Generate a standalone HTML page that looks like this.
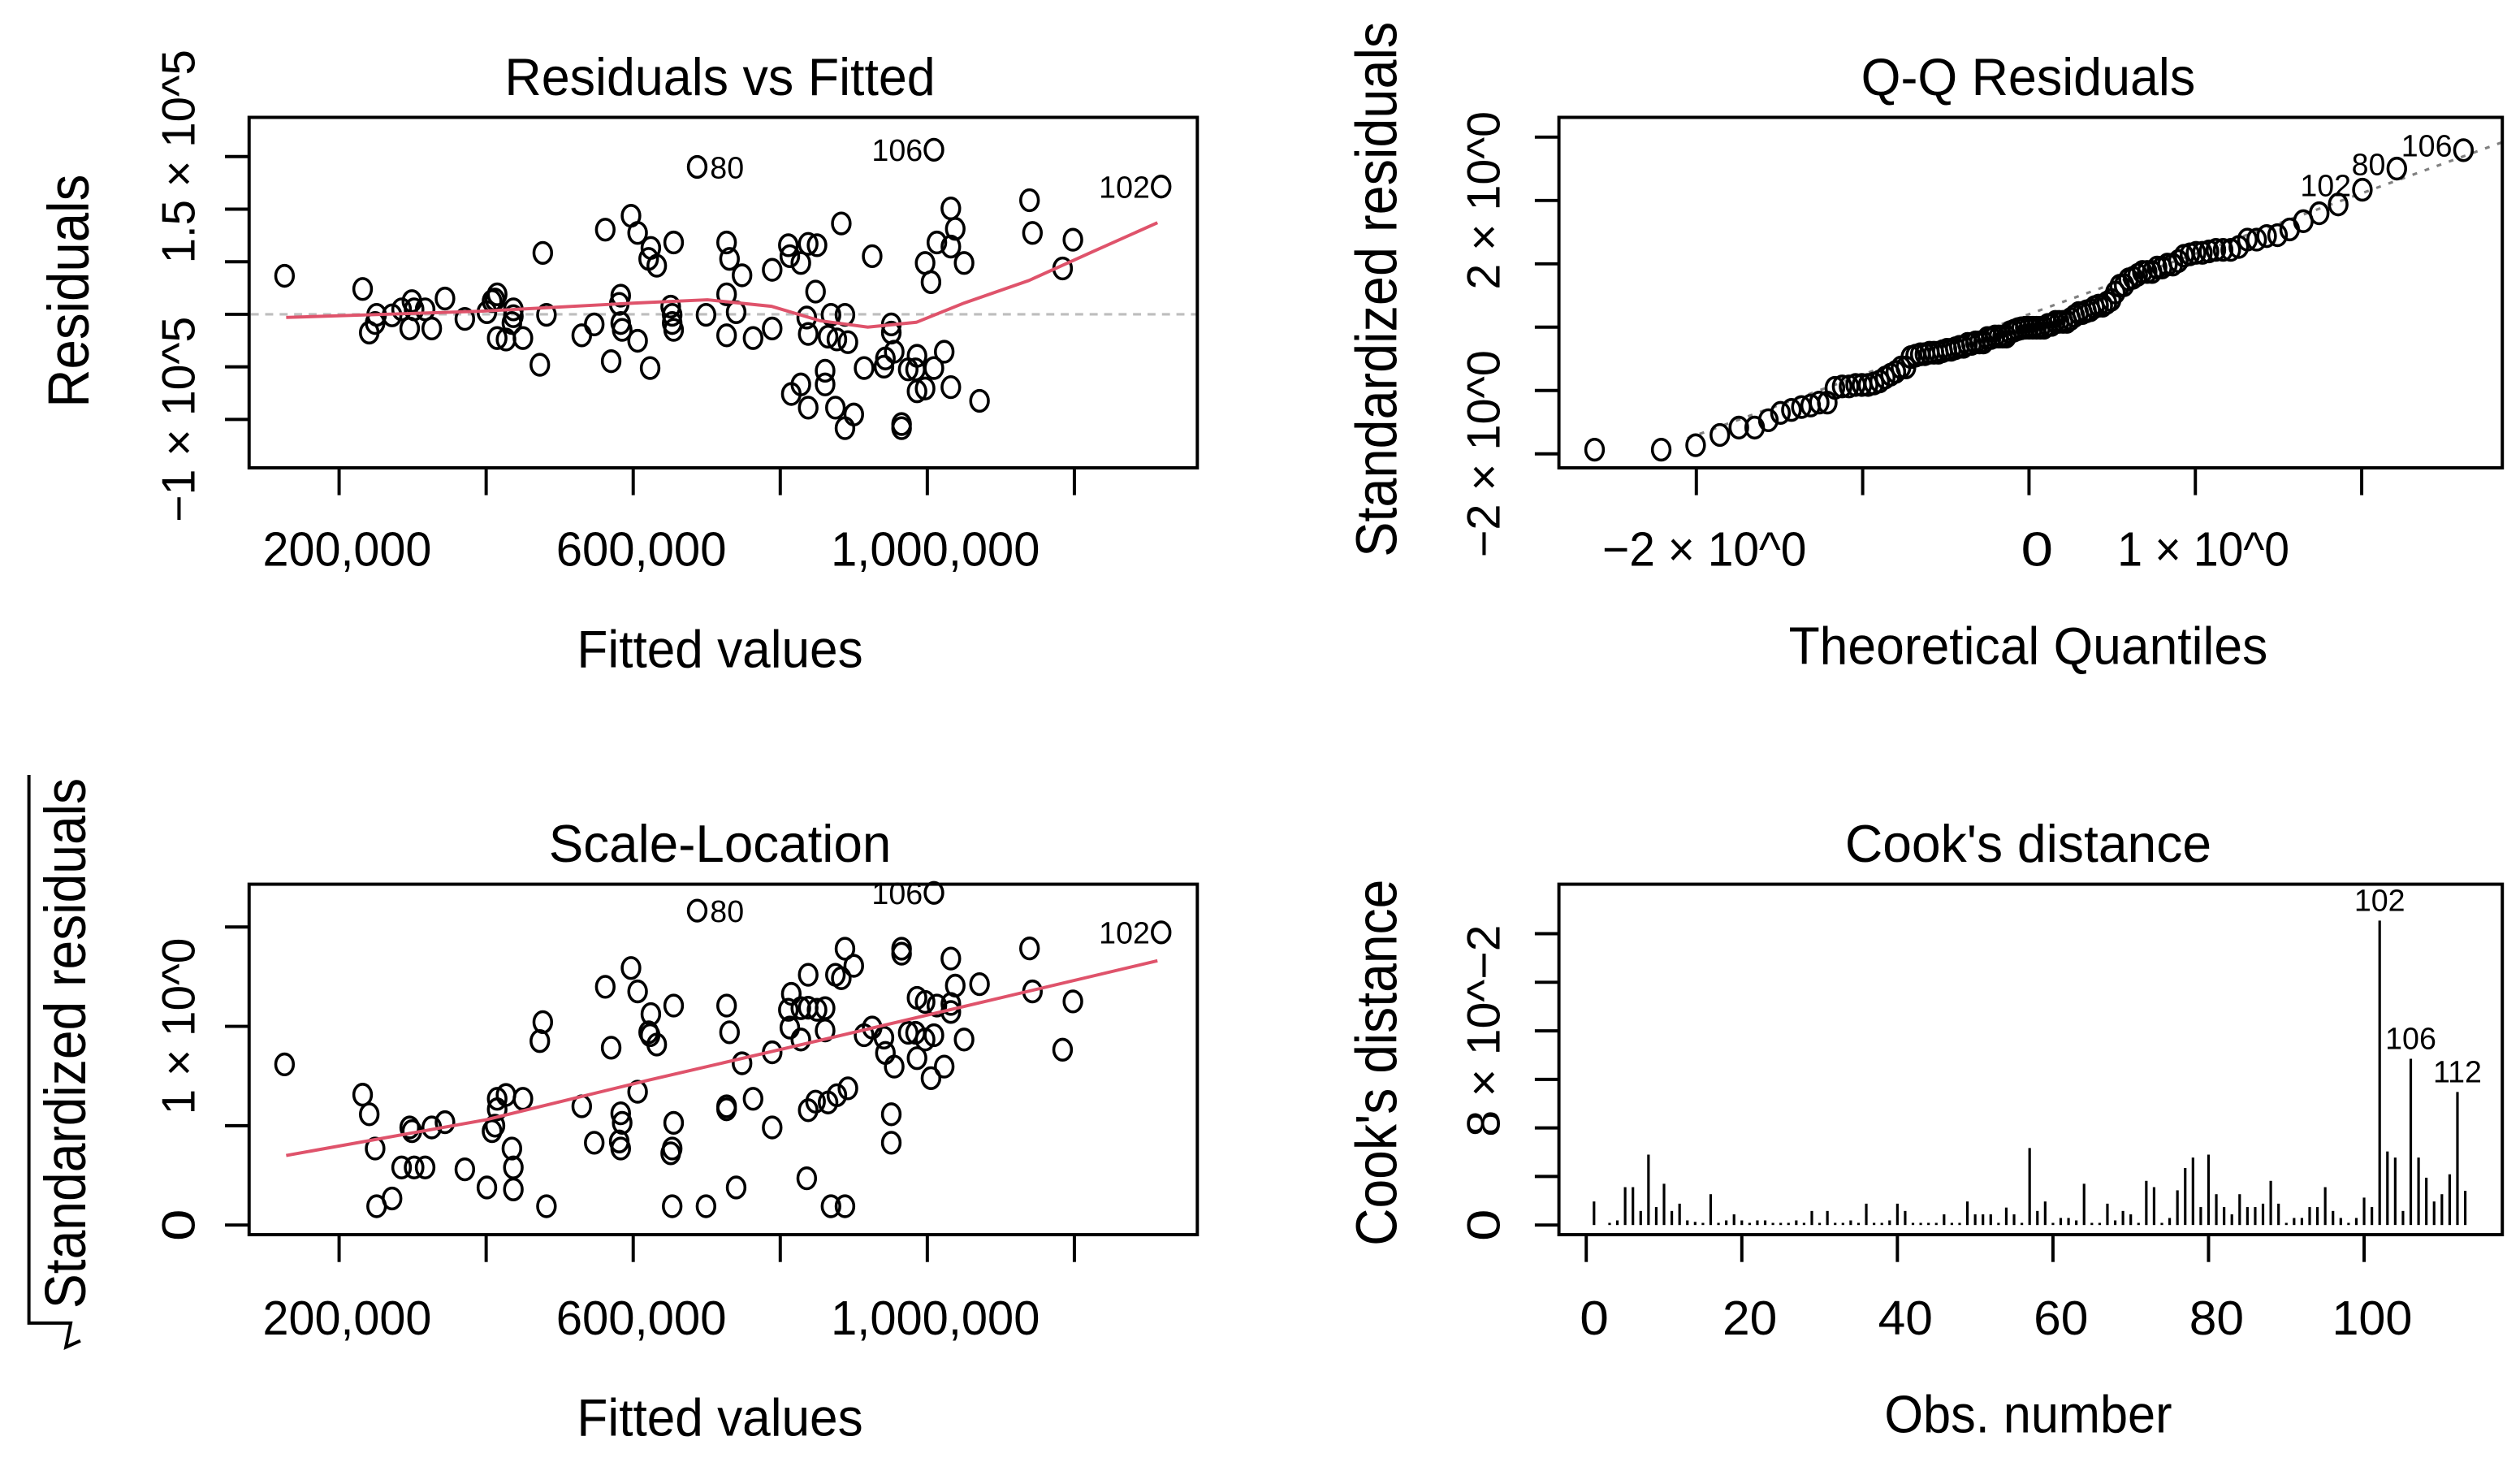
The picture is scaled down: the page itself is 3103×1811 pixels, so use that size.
<!DOCTYPE html>
<html><head><meta charset="utf-8"><title>Regression diagnostics</title>
<style>
html,body{margin:0;padding:0;background:#fff;}
svg{display:block;}
text{font-family:"Liberation Sans",Arial,sans-serif;fill:#000;}
</style></head>
<body>
<svg id="chart" xmlns="http://www.w3.org/2000/svg" width="3103" height="1811" viewBox="0 0 1568 915" preserveAspectRatio="none">
<rect x="0" y="0" width="1568" height="915" fill="#fff"/>
<!-- Panel 1 -->
<g>
<text x="448" y="59" font-size="33" text-anchor="middle" textLength="268" lengthAdjust="spacingAndGlyphs">Residuals vs Fitted</text>
<text x="448" y="415" font-size="33" text-anchor="middle" textLength="178" lengthAdjust="spacingAndGlyphs">Fitted values</text>
<text transform="translate(55,181) rotate(-90)" font-size="36" text-anchor="middle" textLength="145" lengthAdjust="spacingAndGlyphs">Residuals</text>
<g id="p1"></g>
<rect x="155" y="73" width="590" height="218" fill="none" stroke="#000" stroke-width="2"/>
</g>
<!-- Panel 2 -->
<g>
<text x="1262" y="59" font-size="33" text-anchor="middle" textLength="208" lengthAdjust="spacingAndGlyphs">Q-Q Residuals</text>
<text x="1262" y="413" font-size="33" text-anchor="middle" textLength="298" lengthAdjust="spacingAndGlyphs">Theoretical Quantiles</text>
<text transform="translate(869,180) rotate(-90)" font-size="36" text-anchor="middle" textLength="333" lengthAdjust="spacingAndGlyphs">Standardized residuals</text>
<g id="p2"></g>
<rect x="970" y="73" width="587" height="218" fill="none" stroke="#000" stroke-width="2"/>
</g>
<!-- Panel 3 -->
<g>
<text x="448" y="536" font-size="33" text-anchor="middle" textLength="213" lengthAdjust="spacingAndGlyphs">Scale-Location</text>
<text x="448" y="893" font-size="33" text-anchor="middle" textLength="178" lengthAdjust="spacingAndGlyphs">Fitted values</text>
<text transform="translate(53,649) rotate(-90)" font-size="36" text-anchor="middle" textLength="330" lengthAdjust="spacingAndGlyphs">Standardized residuals</text>
<path d="M18,482 L18,823 L44,823 L41,838 L50,834" fill="none" stroke="#000" stroke-width="2"/>
<g id="p3"></g>
<rect x="155" y="550" width="590" height="218" fill="none" stroke="#000" stroke-width="2"/>
</g>
<!-- Panel 4 -->
<g>
<text x="1262" y="536" font-size="33" text-anchor="middle" textLength="228" lengthAdjust="spacingAndGlyphs">Cook's distance</text>
<text x="1262" y="891" font-size="33" text-anchor="middle" textLength="179" lengthAdjust="spacingAndGlyphs">Obs. number</text>
<text transform="translate(869,661) rotate(-90)" font-size="36" text-anchor="middle" textLength="228" lengthAdjust="spacingAndGlyphs">Cook's distance</text>
<g id="p4"></g>
<rect x="970" y="550" width="587" height="218" fill="none" stroke="#000" stroke-width="2"/>
</g>
</svg>
<script>
// ---- data (thousands for fitted / residuals) ----
const fittedK = [125.8,232,241,249,251,272,285,296,299,302,317,326,344,371,401,408,415,412,415,427,437,437,435,450,477,473,482,530,547,562,570,583,581,583,585,597,606,606,623,624,621,632,655,651,653,653,655,687,699,727,731,748,727,740,727,763,789,789,811,813,828,838,850,848,836,838,828,815,838,861,861,869,888,865,877,892,875,900,888,883,925,914,941,943,955,951,951,965,965,974,986,984,986,997,1009,1023,1032,997,1005,1013,1032,1038,1032,1050,1009,1071,1139,1143,1184,1198,1318];
const residK = [36.6,24.1,-17.4,-8.3,-0.5,-1,4.7,-13.5,12.5,4.7,4.7,-13.5,15,-4.4,2,12.5,19,14,-22.6,-24,-1.8,4.7,-8.3,-22.6,58.4,-48,-0.5,-20,-9.6,80.5,-44.6,17.7,9.9,-8.3,-14.8,93.7,77.4,-25.2,-51.1,63.1,52.7,46.2,68.3,7.3,-0.5,-8.3,-14.8,140.2,-0.5,68.3,52.7,37.1,19,2,-20,-22.6,42.3,-13.5,65.7,55.3,48.8,67,65.7,21.6,-3.1,-18.7,-66.7,-75.8,-88.8,-53.7,-66.7,-0.5,-0.5,-21.3,-23.9,-26.5,-88.8,-95.3,-108.3,86.4,55.3,-51.1,-49.8,-42,-35.6,-17.4,-9.6,-108.3,-104.4,-52.4,-39.5,-52.4,-73.2,-70.6,-51.1,-35.6,-69.3,48.8,30.6,68.3,64.4,81.3,100.7,48.8,156.5,-82.3,108.5,77.4,43.6,70.9,121.5];
const sigmaK = 56;
const pointLabels = ["106","80","102"];
const loessFitK = [128,263,395,602,701,788,854,919,985,1050,1138,1225,1313];
const loessResK = [-3,0,3,10.7,13.8,7.6,-6.1,-12.2,-7.6,10.7,32.1,59.6,87.1];
const slFitK = [128,400,622,843,1050,1313];
const slVal = [0.35,0.53,0.73,0.92,1.1,1.33];
const cooks = [0.0097,0,0.0009,0.0019,0.0156,0.0156,0.0058,0.029,0.0074,0.017,0.0058,0.0088,0.0019,0.0013,0.0009,0.0127,0.0009,0.0019,0.0044,0.0019,0.0009,0.0019,0.0019,0.0009,0.0009,0.0009,0.0019,0.0009,0.0058,0.0009,0.0058,0.0009,0.0009,0.0019,0.0009,0.0088,0.0009,0.0009,0.0019,0.0088,0.0058,0.0009,0.0009,0.0009,0.0009,0.0044,0.0009,0.0009,0.0097,0.0044,0.0044,0.0044,0.0009,0.0072,0.0044,0.0009,0.0317,0.0058,0.0097,0.0009,0.0029,0.0029,0.0019,0.017,0.0009,0.0009,0.0088,0.0019,0.0058,0.0044,0.0009,0.0182,0.0156,0.0009,0.0029,0.0143,0.0235,0.0278,0.0074,0.029,0.0127,0.0074,0.0044,0.0127,0.0074,0.0074,0.0088,0.0182,0.0088,0.0009,0.0029,0.0029,0.0074,0.0074,0.0156,0.0058,0.0029,0.0009,0.0029,0.0113,0.0074,0.1254,0.0303,0.0278,0.0058,0.0685,0.0278,0.0195,0.0097,0.0127,0.0209,0.0548,0.0141];
const fitTicks = [200,400,600,800,1000,1200];
const fitTickLabels = ["200,000","","600,000","","1,000,000",""];
const residTicks = [-100,-50,0,50,100,150];
const residTickLabels = ["\u22121 \u00d7 10^5","","","","","1.5 \u00d7 10^5"];
const qqXTicks = [-2,-1,0,1,2];
const qqXTickLabels = ["\u22122 \u00d7 10^0","","0","1 \u00d7 10^0",""];
const qqYTicks = [-2,-1,0,1,2,3];
const qqYTickLabels = ["\u22122 \u00d7 10^0","","","","2 \u00d7 10^0",""];
const slTicks = [0,0.5,1,1.5];
const slTickLabels = ["0","","1 \u00d7 10^0",""];
const obsTicks = [0,20,40,60,80,100];
const obsTickLabels = ["0","20","40","60","80","100"];
const cookTicks = [0,0.02,0.04,0.06,0.08,0.10,0.12];
const cookTickLabels = ["0","","","","8 \u00d7 10^\u22122","",""];

// ---- axis functions ----
const xF = v => 211 + (v - 200) * 0.4575;
const yR = v => 195.5 - v / 50 * 32.7;
const xQ = q => 1262.5 + q * 103.5;
const yQ = v => 203.5 - v * 39.4;
const yS = v => 762 - v * 123.6;
const xC = i => 987 + i * 4.84;
const yC = v => 762 - v / 0.02 * 30.2;

const NS = "http://www.w3.org/2000/svg";
function mk(parent, tag, attrs, txt) {
  const e = document.createElementNS(NS, tag);
  for (const k in attrs) e.setAttribute(k, attrs[k]);
  if (txt !== undefined) e.textContent = txt;
  parent.appendChild(e);
  return e;
}
function qnorm(p) {
  const a=[-39.69683028665376,220.9460984245205,-275.9285104469687,138.3577518672690,-30.66479806614716,2.506628277459239];
  const b=[-54.47609879822406,161.5858368580409,-155.6989798598866,66.80131188771972,-13.28068155288572];
  const c=[-0.007784894002430293,-0.3223964580411365,-2.400758277161838,-2.549732539343734,4.374664141464968,2.938163982698783];
  const d=[0.007784695709041462,0.3224671290700398,2.445134137142996,3.754408661907416];
  const pl=0.02425;
  if (p < pl) { const q=Math.sqrt(-2*Math.log(p)); return (((((c[0]*q+c[1])*q+c[2])*q+c[3])*q+c[4])*q+c[5])/((((d[0]*q+d[1])*q+d[2])*q+d[3])*q+1); }
  if (p > 1-pl) { const q=Math.sqrt(-2*Math.log(1-p)); return -(((((c[0]*q+c[1])*q+c[2])*q+c[3])*q+c[4])*q+c[5])/((((d[0]*q+d[1])*q+d[2])*q+d[3])*q+1); }
  const q=p-0.5, r=q*q;
  return (((((a[0]*r+a[1])*r+a[2])*r+a[3])*r+a[4])*r+a[5])*q/(((((b[0]*r+b[1])*r+b[2])*r+b[3])*r+b[4])*r+1);
}
function quant(sorted, p) { const h=(sorted.length-1)*p, lo=Math.floor(h); return sorted[lo]+(h-lo)*((sorted[Math.min(lo+1,sorted.length-1)])-sorted[lo]); }

function xAxis(g, ticks, labels, fx, y0, labY, lens, name) {
  ticks.forEach((t, i) => {
    const l = mk(g, "line", {x1: fx(t), x2: fx(t), y1: y0, y2: y0 + 16, stroke: "#000", "stroke-width": 2});
    
    
    if (labels[i]) {
      const tx = mk(g, "text", {x: fx(t) + 5, y: labY, "font-size": 30, "text-anchor": "middle", textLength: lens[i], lengthAdjust: "spacingAndGlyphs"}, labels[i]);
      
      
    }
  });
}
function yAxis(g, ticks, labels, fy, x0, labX, lens, name) {
  ticks.forEach((t, i) => {
    const l = mk(g, "line", {x1: x0 - 15, x2: x0, y1: fy(t), y2: fy(t), stroke: "#000", "stroke-width": 2});
    
    
    if (labels[i]) {
      const tx = mk(g, "text", {transform: `translate(${labX},${fy(t)}) rotate(-90)`, "font-size": 29, "text-anchor": "middle", textLength: lens[i], lengthAdjust: "spacingAndGlyphs"}, labels[i]);
      
      
    }
  });
}
function pt(g, x, y, name) {
  const c = mk(g, "ellipse", {cx: x, cy: y, rx: 5.5, ry: 6.5, fill: "none", stroke: "#000", "stroke-width": 1.8});
  
  
}
function lbl(g, x, y, txt, anchor, name) {
  const t = mk(g, "text", {x: x, y: y, "font-size": 19, "text-anchor": anchor}, txt);
  
  
}

const stdRes = residK.map(r => r / sigmaK);
const order = stdRes.map((v, i) => i).sort((a, b) => Math.abs(stdRes[b]) - Math.abs(stdRes[a]));
const top3 = order.slice(0, 3);
const midFit = (Math.min(...fittedK) + Math.max(...fittedK)) / 2;

// ---- Panel 1 ----
const p1 = document.getElementById("p1");
xAxis(p1, fitTicks, fitTickLabels, xF, 292, 352, [105,0,106,0,130,0], "p1");
yAxis(p1, residTicks, residTickLabels, yR, 155, 121, [128,0,0,0,0,133], "p1");
const z = mk(p1, "line", {x1: 156, x2: 744, y1: yR(0), y2: yR(0), stroke: "#bebebe", "stroke-width": 1.6, "stroke-dasharray": "5,4"});


fittedK.forEach((f, i) => pt(p1, xF(f), yR(residK[i]), 'residual-point'));
const l1 = mk(p1, "polyline", {points: loessFitK.map((f, i) => xF(f) + "," + yR(loessResK[i])).join(" "), fill: "none", stroke: "#DF536B", "stroke-width": 2});


top3.forEach((idx, k) => {
  const x = xF(fittedK[idx]), y = yR(residK[idx]) + 7;
  if (fittedK[idx] > midFit) lbl(p1, x - 7, y, pointLabels[k], "end", 'p1-point-label');
  else lbl(p1, x + 8, y, pointLabels[k], "start", 'p1-point-label');
});

// ---- Panel 2 (Q-Q) ----
const p2 = document.getElementById("p2");
xAxis(p2, qqXTicks, qqXTickLabels, xQ, 292, 352, [127,0,20,107,0], "p2");
yAxis(p2, qqYTicks, qqYTickLabels, yQ, 970, 933, [129,0,0,0,111,0], "p2");
const sorted = stdRes.map((v, i) => [v, i]).sort((a, b) => a[0] - b[0]);
const n = sorted.length;
const theo = sorted.map((s, k) => qnorm((k + 1 - 0.5) / n));
const sv = sorted.map(s => s[0]);
const y1 = quant(sv, 0.25), y3 = quant(sv, 0.75), x1 = qnorm(0.25), x3 = qnorm(0.75);
const slope = (y3 - y1) / (x3 - x1), icpt = y1 - slope * x1;
const qx0 = (1050 - 1262.5) / 103.5, qx1 = (1557 - 1262.5) / 103.5;
const clip2 = mk(p2, "clipPath", {id: "c2"});
mk(clip2, "rect", {x: 970, y: 73, width: 587, height: 218});
const ql = mk(p2, "line", {x1: xQ(qx0), y1: yQ(icpt + slope * qx0), x2: xQ(qx1), y2: yQ(icpt + slope * qx1), stroke: "#808080", "stroke-width": 1.6, "stroke-dasharray": "3,5", "clip-path": "url(#c2)"});


sorted.forEach((s, k) => pt(p2, xQ(theo[k]), yQ(s[0]), 'qq-point'));
top3.forEach((idx, k) => {
  const pos = sorted.findIndex(s => s[1] === idx);
  lbl(p2, xQ(theo[pos]) - 7, yQ(sorted[pos][0]) + 4, pointLabels[k], "end", 'qq-point-label');
});

// ---- Panel 3 (Scale-Location) ----
const p3 = document.getElementById("p3");
xAxis(p3, fitTicks, fitTickLabels, xF, 769, 830, [105,0,106,0,130,0], "p3");
yAxis(p3, slTicks, slTickLabels, yS, 155, 121, [20,0,110,0], "p3");
fittedK.forEach((f, i) => pt(p3, xF(f), yS(Math.sqrt(Math.abs(stdRes[i]))), 'scale-location-point'));
const l3 = mk(p3, "polyline", {points: slFitK.map((f, i) => xF(f) + "," + yS(slVal[i])).join(" "), fill: "none", stroke: "#DF536B", "stroke-width": 2});


top3.forEach((idx, k) => {
  const x = xF(fittedK[idx]), y = yS(Math.sqrt(Math.abs(stdRes[idx]))) + 7;
  if (fittedK[idx] > midFit) lbl(p3, x - 7, y, pointLabels[k], "end", 'p3-point-label');
  else lbl(p3, x + 8, y, pointLabels[k], "start", 'p3-point-label');
});

// ---- Panel 4 (Cook's distance) ----
const p4 = document.getElementById("p4");
xAxis(p4, obsTicks, obsTickLabels, xC, 769, 830, [18,34,34,34,34,50], "p4");
yAxis(p4, cookTicks, cookTickLabels, yC, 970, 933, [20,0,0,0,132,0,0], "p4");
cooks.forEach((v, i) => {
  const b = mk(p4, "line", {x1: xC(i + 1), x2: xC(i + 1), y1: yC(0), y2: yC(v), stroke: "#000", "stroke-width": 1.6});
  
  
});
const cOrder = cooks.map((v, i) => i).sort((a, b) => cooks[b] - cooks[a]).slice(0, 3);
cOrder.forEach(i => lbl(p4, xC(i + 1), yC(cooks[i]) - 6, String(i + 1), "middle", 'cooks-point-label'));
</script>
</body></html>
